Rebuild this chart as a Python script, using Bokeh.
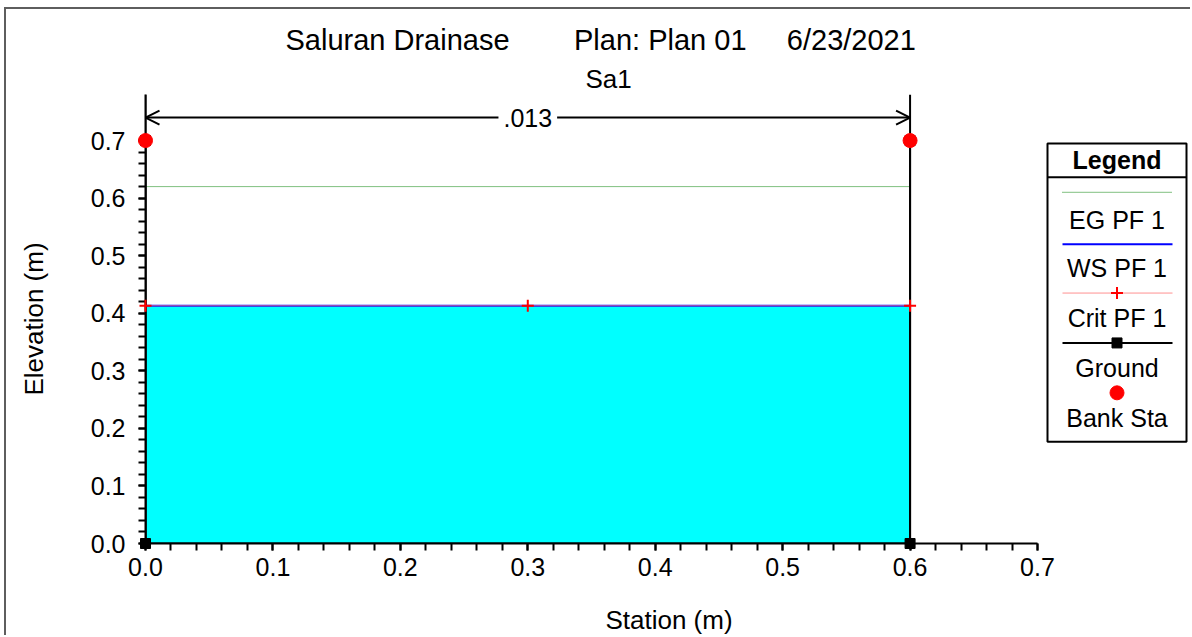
from bokeh.plotting import figure
from bokeh.models import Range1d, FixedTicker, Title, Arrow, OpenHead, Label
from bokeh.core.properties import value
from bokeh.embed import file_html
from bokeh.resources import INLINE

# ---------------- data ----------------
ground_station = [0.0, 0.0, 0.6, 0.6]
ground_elev = [0.7, 0.0, 0.0, 0.7]
bank_station = [0.0, 0.6]
bank_elev = [0.7, 0.7]
ws_pf1 = 0.413
eg_pf1 = 0.62
crit_pf1 = 0.413
crit_station = [0.0, 0.3, 0.6]
n_station = [0.0, 0.6]
n_values = [".013"]
n_label_elev = 0.74
top_elev = 0.78

x_ticks = [0.0, 0.1, 0.2, 0.3, 0.4, 0.5, 0.6, 0.7]
x_tick_labels = ["0.0", "0.1", "0.2", "0.3", "0.4", "0.5", "0.6", "0.7"]
y_ticks = [0.0, 0.1, 0.2, 0.3, 0.4, 0.5, 0.6, 0.7]
y_tick_labels = ["0.0", "0.1", "0.2", "0.3", "0.4", "0.5", "0.6", "0.7"]

title_main = "Saluran Drainase" + "\u00a0" * 8 + "Plan: Plan 01" + "\u00a0" * 5 + "6/23/2021"
title_sub = "Sa1"
legend_title = "Legend"
legend_labels = ["EG PF 1", "WS PF 1", "Crit PF 1", "Ground", "Bank Sta"]

FONT = "Liberation Sans"
EG_COLOR = "#008000"

# ---------------- layout (page pixels) ----------------
OX, OY = 6, 9            # canvas origin on the page (margin + border)
W, H = 1186, 628
MB_L, MB_T, MB_B = 139, 85, 93
frame_left_px = OX + MB_L
frame_right_px = OX + W
frame_top_px = OY + MB_T
frame_bottom_px = OY + H - MB_B
x_end_tick_px = 1037
x_end = x_ticks[-1] * (frame_right_px - frame_left_px) / (x_end_tick_px - frame_left_px)

p = figure(width=W, height=H, x_range=Range1d(0, x_end), y_range=Range1d(0, top_elev),
           output_backend="svg", toolbar_location=None,
           min_border_left=MB_L, min_border_right=0, min_border_top=MB_T, min_border_bottom=MB_B)
p.styles = {"margin-left": "4px", "margin-top": "7px",
            "border-left": "2px solid #5e5e5e", "border-top": "2px solid #5e5e5e"}
p.xgrid.visible = False
p.ygrid.visible = False
p.outline_line_color = None
p.background_fill_color = "white"
p.border_fill_color = "white"

# titles (first added sits closest to the frame)
p.add_layout(Title(text=title_sub, align="left", offset=440, standoff=2, text_font=FONT,
                   text_font_size="26px", text_font_style="normal", text_color="black"), "above")
p.add_layout(Title(text=title_main, align="left", offset=140, standoff=9, text_font=FONT,
                   text_font_size="29px", text_font_style="normal", text_color="black"), "above")

# axes
minor = [round(i * 0.02, 2) for i in range(36)]
for ax, ticks, labels in ((p.xaxis[0], x_ticks, x_tick_labels), (p.yaxis[0], y_ticks, y_tick_labels)):
    ax.ticker = FixedTicker(ticks=ticks, minor_ticks=minor)
    ax.major_label_overrides = dict(zip(ticks, labels))
    ax.axis_line_width = 2
    ax.axis_line_color = "black"
    ax.major_tick_line_width = 2
    ax.minor_tick_line_width = 2
    ax.major_tick_line_color = "black"
    ax.minor_tick_line_color = "black"
    ax.major_tick_in = 0
    ax.major_tick_out = 7
    ax.minor_tick_in = 0
    ax.minor_tick_out = 7
    ax.major_label_text_font = FONT
    ax.major_label_text_font_size = "25px"
    ax.major_label_text_color = "black"
    ax.axis_label_text_font = FONT
    ax.axis_label_text_font_size = "26px"
    ax.axis_label_text_font_style = "normal"
    ax.axis_label_text_color = "black"
p.xaxis.bounds = (x_ticks[0], x_ticks[-1])
p.xaxis.axis_label = "Station (m)"
p.yaxis.axis_label = "Elevation (m)"
p.xaxis.major_label_standoff = 7
p.yaxis.major_label_standoff = 13
p.xaxis.axis_label_standoff = 26
p.yaxis.axis_label_standoff = 39

# water
p.varea(x=[ground_station[1], ground_station[2]], y1=[ground_elev[1], ground_elev[2]],
        y2=[ws_pf1, ws_pf1], fill_color="#00ffff")
# EG
p.line(x=[ground_station[0], ground_station[-1]], y=[eg_pf1, eg_pf1], line_color=EG_COLOR,
       line_width=1, line_dash="1 1")
# WS
p.line(x=[ground_station[0], ground_station[-1]], y=[ws_pf1, ws_pf1], line_color="#0000ff", line_width=2)
# Crit
p.line(x=crit_station, y=[crit_pf1] * len(crit_station), line_color="#ff8080", line_width=1,
       line_alpha=0.8)
r_crit = p.scatter(x=crit_station, y=[crit_pf1] * len(crit_station), marker="cross", size=12,
                   line_color="#ff0000", line_width=2)
# n-value break lines and ground
p.segment(x0=n_station, y0=[min(ground_elev)] * 2, x1=n_station, y1=[top_elev] * 2,
          line_color="black", line_width=2)
p.line(x=ground_station, y=ground_elev, line_color="black", line_width=2)
r_ground = p.scatter(x=ground_station, y=ground_elev, marker="square", size=10, color="black")
# bank stations
r_bank = p.scatter(x=bank_station, y=bank_elev, marker="circle", size=14, color="#ff0000")
for r in (r_crit, r_ground, r_bank):
    r.level = "overlay"

# n value arrow
p.add_layout(Arrow(x_start=n_station[0], x_end=n_station[1], y_start=n_label_elev, y_end=n_label_elev,
                   start=OpenHead(size=14, line_width=2), end=OpenHead(size=14, line_width=2),
                   line_width=2, line_color="black"))
p.add_layout(Label(x=(n_station[0] + n_station[1]) / 2, y=n_label_elev, text=n_values[0],
                   text_align="center", text_baseline="middle", text_font=FONT,
                   text_font_size="25px", text_color="black", padding=5,
                   background_fill_color="white", background_fill_alpha=1.0))

# ---------------- legend (drawn in page-pixel extra ranges) ----------------
p.extra_x_ranges = {"lx": Range1d(frame_left_px, frame_right_px)}
p.extra_y_ranges = {"ly": Range1d(frame_bottom_px, frame_top_px)}
L = dict(x_range_name="lx", y_range_name="ly")
box_l, box_r, box_t, box_b, box_div = 1047, 1186, 143, 442, 177
cx = (box_l + box_r) / 2
s_l, s_r = 1062, 1172
p.quad(left=[box_l], right=[box_r], top=[box_t], bottom=[box_b], fill_color="white",
       line_color="black", line_width=2, **L)
p.segment(x0=[box_l], y0=[box_div], x1=[box_r], y1=[box_div], line_color="black", line_width=2, **L)
p.text(x=[cx], y=[160], text=[legend_title], text_align="center", text_baseline="middle",
       text_font=value(FONT), text_font_size="25px", text_font_style="bold", **L)

sample_y = [192, 244, 293, 343, 393]
label_y = [220, 268, 318, 368, 418]
p.segment(x0=[s_l], y0=[sample_y[0]], x1=[s_r], y1=[sample_y[0]], line_color=EG_COLOR,
          line_width=1, line_dash="1 1", **L)
p.segment(x0=[s_l], y0=[sample_y[1]], x1=[s_r], y1=[sample_y[1]], line_color="#0000ff", line_width=2, **L)
p.segment(x0=[s_l], y0=[sample_y[2]], x1=[s_r], y1=[sample_y[2]], line_color="#ff9090", line_width=1, **L)
p.scatter(x=[cx], y=[sample_y[2]], marker="cross", size=12, line_color="#ff0000", line_width=2, **L)
p.segment(x0=[s_l], y0=[sample_y[3]], x1=[s_r], y1=[sample_y[3]], line_color="black", line_width=2, **L)
p.scatter(x=[cx], y=[sample_y[3]], marker="square", size=10, color="black", **L)
p.scatter(x=[cx], y=[sample_y[4]], marker="circle", size=14, color="#ff0000", **L)
p.text(x=[cx] * len(legend_labels), y=label_y, text=legend_labels, text_align="center",
       text_baseline="middle", text_font=value(FONT), text_font_size="25px", text_color="black", **L)

open("out.html", "w").write(file_html(p, INLINE))
